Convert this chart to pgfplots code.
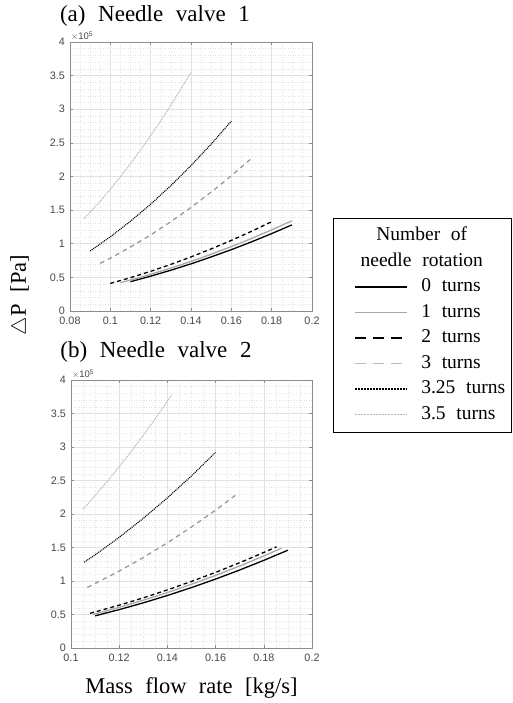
\documentclass[border=0pt]{standalone}
\usepackage{pgfplots}
\pgfplotsset{compat=1.18}
\usepackage{fontspec}
\setmainfont{Liberation Serif}[WordSpace=2.2]
\newfontfamily\ticksf{Liberation Sans}
\definecolor{gridc}{HTML}{E2E2E2}
\definecolor{gridm}{HTML}{E4E4E4}
\definecolor{axc}{HTML}{8C8C8C}
\definecolor{gA}{HTML}{A8A8A8}
\definecolor{gB}{HTML}{9A9A9A}
\definecolor{gC}{HTML}{B8B8B8}
\begin{document}
\begin{tikzpicture}
\useasboundingbox (0pt,0pt) rectangle (513pt,-703pt);
\pgfplotsset{
  myax/.style={
    scale only axis,
    anchor=north west,
    clip mode=individual,
    axis line style={draw=axc, line width=0.6pt},
    tick style={draw=axc, line width=0.5pt},
    tick align=inside,
    major tick length=3pt, minor tick length=0pt,
    grid=both,
    major grid style={draw=gridc, line width=0.5pt},
    minor grid style={draw=gridm, line width=0.5pt, dash pattern=on 1pt off 1.5pt},
    minor x tick num=3, minor y tick num=4,
    ymin=0, ymax=4,
    ytick={0,0.5,1,1.5,2,2.5,3,3.5,4},
    yticklabels={0,0.5,1,1.5,2,2.5,3,3.5,4},
    /pgf/number format/assume math mode=true,
    ticklabel style={font=\ticksf\fontsize{10.8}{12}\selectfont, text=black!72, inner sep=1.5pt},
    xticklabel style={yshift=-4.5pt},
    yticklabel style={xshift=-3.5pt},
    legend image code/.code={\path (0pt,0pt); \draw[##1] (15pt,0pt) -- (67pt,0pt);},
  },
  s0/.style={black, line width=1.3pt, legend image post style={line width=1.8pt}},
  s1/.style={gA, line width=1.3pt, legend image post style={line width=1.8pt}},
  s2/.style={black, line width=1.3pt, dash pattern=on 4pt off 3pt, legend image post style={line width=1.8pt, dash pattern=on 11pt off 7pt}},
  s3/.style={gB, line width=1.3pt, dash pattern=on 4.5pt off 4pt, legend image post style={gC, line width=1.8pt, dash pattern=on 11pt off 7pt}},
  s4/.style={black, line width=1.1pt, dash pattern=on 1pt off 0.9pt, legend image post style={line width=1.5pt, dash pattern=on 1.4pt off 1.6pt}},
  s5/.style={gC, line width=1.1pt, dash pattern=on 1pt off 0.9pt, legend image post style={line width=1.5pt, dash pattern=on 1.4pt off 1.6pt}},
}
% ---------------- (a) ----------------
\begin{axis}[myax, at={(70pt,-42pt)}, width=242pt, height=269pt,
  xmin=0.08, xmax=0.2,
  xtick={0.08,0.1,0.12,0.14,0.16,0.18,0.2},
  xticklabels={0.08,0.1,0.12,0.14,0.16,0.18,0.2},
  legend style={at={(1.0868,0.3457)}, anchor=north west, draw=black, line width=1pt,
    inner xsep=6pt, inner ysep=9pt,
    font=\fontsize{19.5}{22}\selectfont,
    cells={anchor=west},
    nodes={inner sep=0pt, text height=13pt, text depth=4pt},
    row sep=8.5pt,
    /tikz/every odd column/.append style={column sep=13pt}},
]
\addlegendimage{empty legend}
\addlegendentry{\makebox[0pt]{Number of}}
\addlegendimage{empty legend}
\addlegendentry{\makebox[0pt]{needle rotation}}
\addplot[s0] coordinates {(0.11,0.436)(0.12,0.518)(0.13,0.606)(0.14,0.701)(0.15,0.804)(0.16,0.912)(0.17,1.028)(0.18,1.151)(0.19,1.280)};
\addlegendentry{0 turns}
\addplot[s1] coordinates {(0.105,0.420)(0.11,0.460)(0.12,0.545)(0.13,0.638)(0.14,0.737)(0.15,0.844)(0.16,0.958)(0.17,1.078)(0.18,1.206)(0.19,1.341)};
\addlegendentry{1 turns}
\addplot[s2] coordinates {(0.10,0.410)(0.11,0.496)(0.12,0.590)(0.13,0.693)(0.14,0.804)(0.15,0.923)(0.16,1.050)(0.17,1.185)(0.18,1.328)};
\addlegendentry{2 turns}
\addplot[s3] coordinates {(0.095,0.709)(0.10,0.786)(0.11,0.951)(0.12,1.131)(0.13,1.328)(0.14,1.540)(0.15,1.768)(0.16,2.011)(0.17,2.270)};
\addlegendentry{3 turns}
\addplot[s4] coordinates {(0.09,0.893)(0.10,1.103)(0.11,1.335)(0.12,1.588)(0.13,1.864)(0.14,2.162)(0.15,2.482)(0.16,2.824)};
\addlegendentry{3.25 turns}
\addplot[s5] coordinates {(0.087,1.370)(0.095,1.633)(0.10,1.810)(0.105,1.996)(0.11,2.190)(0.115,2.394)(0.12,2.606)(0.125,2.828)(0.13,3.059)(0.135,3.299)(0.14,3.548)};
\addlegendentry{3.5 turns}
\node[anchor=south west, inner sep=1pt, font=\ticksf\fontsize{9.5}{10}\selectfont, text=black!72] at (rel axis cs:0,1) {$\times$10\textsuperscript{5}};
\end{axis}
% ---------------- (b) ----------------
\begin{axis}[myax, at={(71pt,-380pt)}, width=241pt, height=268pt,
  xmin=0.1, xmax=0.2,
  xtick={0.1,0.12,0.14,0.16,0.18,0.2},
  xticklabels={0.1,0.12,0.14,0.16,0.18,0.2},
]
\addplot[s0] coordinates {(0.11,0.480)(0.12,0.573)(0.13,0.674)(0.14,0.784)(0.15,0.902)(0.16,1.029)(0.17,1.164)(0.18,1.308)(0.19,1.460)};
\addplot[s1] coordinates {(0.109,0.500)(0.12,0.607)(0.13,0.713)(0.14,0.828)(0.15,0.951)(0.16,1.084)(0.17,1.224)(0.18,1.374)(0.1874,1.490)};
\addplot[s2] coordinates {(0.1079,0.518)(0.12,0.639)(0.13,0.749)(0.14,0.867)(0.15,0.994)(0.16,1.129)(0.17,1.273)(0.18,1.426)(0.1853,1.510)};
\addplot[s3] coordinates {(0.1068,0.906)(0.11,0.962)(0.12,1.148)(0.13,1.350)(0.14,1.570)(0.15,1.806)(0.16,2.058)(0.169,2.300)};
\addplot[s4] coordinates {(0.1055,1.280)(0.11,1.390)(0.12,1.652)(0.13,1.935)(0.14,2.241)(0.15,2.569)(0.16,2.920)};
\addplot[s5] coordinates {(0.105,2.072)(0.11,2.274)(0.115,2.485)(0.12,2.706)(0.125,2.936)(0.13,3.176)(0.135,3.424)(0.1418,3.778)};
\node[anchor=south west, inner sep=1pt, font=\ticksf\fontsize{9.5}{10}\selectfont, text=black!72] at (rel axis cs:0,1) {$\times$10\textsuperscript{5}};
\end{axis}
% ---------------- labels ----------------
\node[font=\fontsize{23}{26}\selectfont] at (155pt,-16pt) {(a) Needle valve 1};
\node[font=\fontsize{23}{26}\selectfont] at (156pt,-352pt) {(b) Needle valve 2};
\node[font=\fontsize{22.5}{26}\selectfont] at (191.5pt,-688pt) {Mass flow rate [kg/s]};
\node[font=\fontsize{22.5}{26}\selectfont, rotate=90] at (20pt,-295pt) {$\triangle$P [Pa]};
\end{tikzpicture}
\end{document}
